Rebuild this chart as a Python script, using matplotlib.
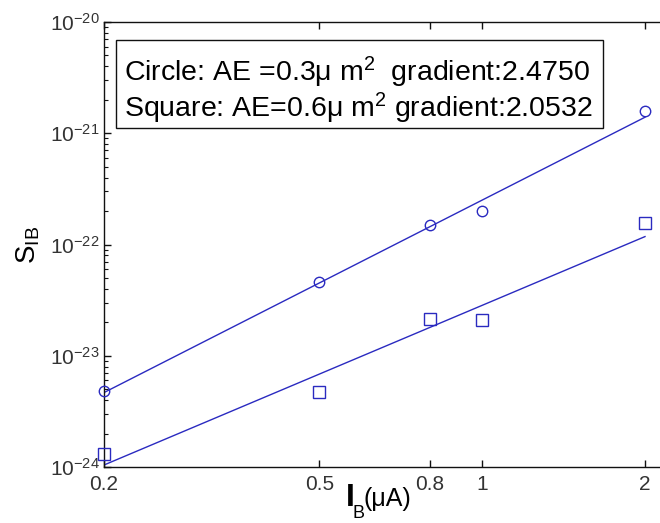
import numpy as np
import matplotlib
matplotlib.use("Agg")
import matplotlib.pyplot as plt
from matplotlib.ticker import FixedLocator, FuncFormatter, LogLocator, NullLocator
from matplotlib.patches import Rectangle

plt.rcParams['font.family'] = ['Liberation Sans', 'DejaVu Sans']
plt.rcParams['mathtext.fontset'] = 'custom'
plt.rcParams['mathtext.rm'] = 'Liberation Sans'
plt.rcParams['mathtext.it'] = 'Liberation Sans:italic'
plt.rcParams['mathtext.bf'] = 'Liberation Sans:bold'

# base current (uA)
ib_values = [0.2, 0.5, 0.8, 1.0, 2.0]
# noise spectral density S_IB
circle_sib = [4.8e-24, 4.6e-23, 1.5e-22, 2.0e-22, 1.6e-21]
square_sib = [1.3e-24, 4.7e-24, 2.15e-23, 2.1e-23, 1.55e-22]
# fitted log-log slopes
circle_gradient = 2.4750
square_gradient = 2.0532

x_ticks = [0.2, 0.5, 0.8, 1, 2]
x_tick_labels = ['0.2', '0.5', '0.8', '1', '2']
y_ticks = [1e-24, 1e-23, 1e-22, 1e-21, 1e-20]

W, H = 660, 523
fig = plt.figure(figsize=(W / 100, H / 100), dpi=100)
fig.patch.set_facecolor('white')


def px(x, y):
    return x / W, 1 - y / H


left, right, top, bottom = 104, 660, 22, 467
ax = fig.add_axes([left / W, 1 - bottom / H, (right - left) / W, (bottom - top) / H])
ax.set_xscale('log')
ax.set_yscale('log')

blue = '#2a2ac0'


def fit_line(x, y, slope):
    lx = np.log10(x)
    ly = np.log10(y)
    intercept = ly.mean() - slope * lx.mean()
    xs = np.array([min(x), max(x)])
    return xs, 10 ** (intercept + slope * np.log10(xs))


for vals, marker, ms, g in [(circle_sib, 'o', 7.5, circle_gradient),
                            (square_sib, 's', 8.0, square_gradient)]:
    ax.plot(ib_values, vals, linestyle='none', marker=marker, ms=ms,
            mfc='none', mec=blue, mew=1.0, clip_on=False, zorder=3)
    fx, fy = fit_line(np.array(ib_values), np.array(vals), g)
    ax.plot(fx, fy, color=blue, lw=1.0, zorder=2)

x_max = 10 ** (np.log10(2) + 15 / 541)
ax.set_xlim(0.2, x_max)
ax.set_ylim(1e-24, 1e-20)

ax.xaxis.set_major_locator(FixedLocator(x_ticks))
ax.xaxis.set_major_formatter(FuncFormatter(lambda v, p: x_tick_labels[x_ticks.index(v)] if v in x_ticks else ''))
ax.xaxis.set_minor_locator(NullLocator())

ax.yaxis.set_major_locator(FixedLocator(y_ticks))
ax.yaxis.set_major_formatter(FuncFormatter(
    lambda v, p: r'$\mathregular{10^{%d}}$' % int(round(np.log10(v)))))
ax.yaxis.set_minor_locator(LogLocator(base=10, subs=np.arange(2, 10), numticks=20))

ax.spines['right'].set_visible(False)
for s in ['left', 'top', 'bottom']:
    ax.spines[s].set_linewidth(1.0)
    ax.spines[s].set_color('#111111')

ax.tick_params(which='both', direction='in', top=True, right=False, colors='#111111',
               labelcolor='#333333', labelsize=15)
ax.tick_params(which='major', length=5, width=1.0)
ax.tick_params(which='minor', length=3, width=0.8)
ax.tick_params(axis='x', pad=6)
ax.tick_params(axis='y', pad=3)

# annotation box
bx0, by0, bx1, by1 = 116, 40, 603, 128
fig.patches.append(Rectangle((bx0 / W, 1 - by1 / H), (bx1 - bx0) / W, (by1 - by0) / H,
                             transform=fig.transFigure, facecolor='white',
                             edgecolor='#111111', lw=1.0, zorder=5))
fig.text(*px(124, 81),
         'Circle: AE =0.3\u03bc m$\\mathregular{^2}$  gradient:%.4f' % circle_gradient,
         fontsize=20.5, ha='left', va='baseline', color='black', zorder=6)
fig.text(*px(124, 117),
         'Square: AE=0.6\u03bc m$\\mathregular{^2}$ gradient:%.4f' % square_gradient,
         fontsize=20.5, ha='left', va='baseline', color='black', zorder=6)

# y-axis label
fig.text(*px(28, 245), r'$\mathregular{S_{IB}}$', rotation=90,
         fontsize=20, ha='center', va='center', color='black')

# x-axis label: large I, small subscript B, then the unit
fig.text(*px(346, 506), 'I', fontsize=23, fontweight='bold',
         ha='left', va='baseline', color='black')
fig.text(*px(353, 518), 'B', fontsize=13,
         ha='left', va='baseline', color='black')
fig.text(*px(363, 506), '(\u03bcA)', fontsize=18,
         ha='left', va='baseline', color='black')

fig.savefig('out.png', dpi=100, facecolor='white')
